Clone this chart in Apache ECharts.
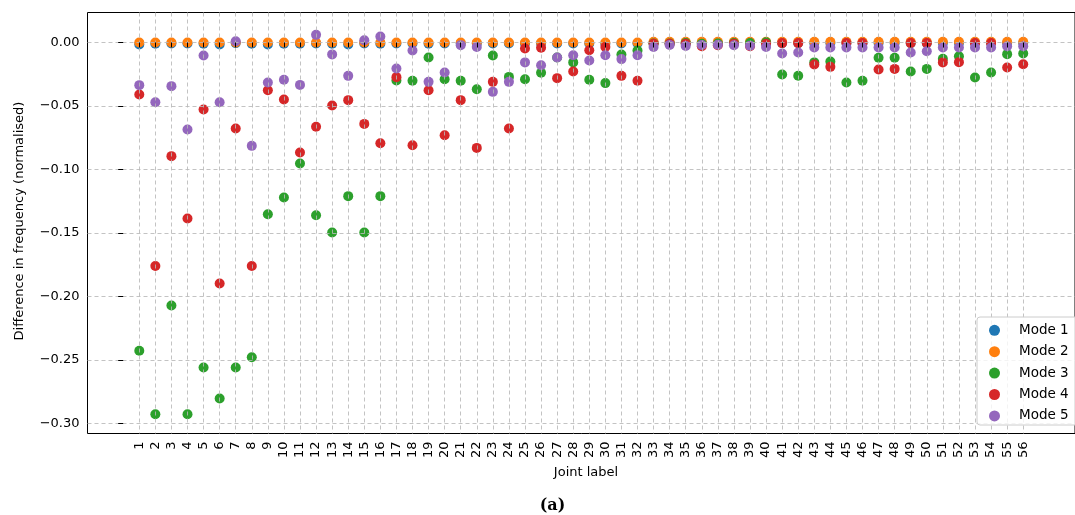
<!DOCTYPE html>
<html><head><meta charset="utf-8">
<script src="https://cdn.jsdelivr.net/npm/echarts@6/dist/echarts.min.js"></script>
<style>html,body{margin:0;padding:0;background:#fff}#c{width:1075px;height:515px}</style>
</head><body><div id="c"></div>
<script>
const joints = [1,2,3,4,5,6,7,8,9,10,11,12,13,14,15,16,17,18,19,20,21,22,23,24,25,26,27,28,29,30,31,32,33,34,35,36,37,38,39,40,41,42,43,44,45,46,47,48,49,50,51,52,53,54,55,56];
const yTicks = [-0.30,-0.25,-0.20,-0.15,-0.10,-0.05,0.00];
const seriesNames = ['Mode 1','Mode 2','Mode 3','Mode 4','Mode 5'];
const mode1 = [-0.0015,-0.001,-0.0008,-0.0008,-0.001,-0.0015,-0.0005,-0.001,-0.0015,-0.001,-0.001,-0.0008,-0.001,-0.0015,-0.0008,-0.001,-0.0008,-0.0008,-0.001,-0.0008,-0.0008,-0.0008,-0.0008,-0.0008,-0.0008,-0.0008,-0.0008,-0.0008,-0.0008,-0.001,-0.0008,-0.0008,-0.0005,-0.0005,-0.0005,-0.0005,-0.0005,-0.0005,-0.0005,-0.0005,-0.0005,-0.0005,-0.0005,-0.0005,-0.0005,-0.0005,-0.0005,-0.0005,-0.0005,-0.0005,-0.0005,-0.0005,-0.0005,-0.0005,-0.0005,-0.0005];
const mode2 = [0,0,0,0,0,0,0,0,0,0,0,0,0,0,0,0,0,0,0,0,0,0,0,0,0,0,0,0,0,0,0,0,0.0005,0.0005,0.0005,0.0005,0.0005,0.0005,0.0005,0.0005,0.0005,0.0005,0.0005,0.0005,0.0005,0.0005,0.0005,0.0005,0.0005,0.0005,0.0005,0.0005,0.0005,0.0005,0.0005,0.0005];
const mode3 = [-0.2428,-0.2927,-0.2071,-0.2927,-0.2559,-0.2803,-0.2559,-0.2478,-0.1352,-0.1221,-0.0953,-0.136,-0.1496,-0.121,-0.1496,-0.121,-0.0299,-0.0302,-0.0118,-0.0289,-0.0302,-0.0368,-0.0102,-0.0271,-0.0289,-0.0239,-0.0118,-0.0157,-0.0294,-0.032,-0.0095,-0.0063,-0.0008,-0.0008,-0.0005,-0.001,-0.0008,-0.0005,-0.0005,0.0002,-0.0252,-0.0262,-0.0157,-0.015,-0.0315,-0.0302,-0.0121,-0.0121,-0.0228,-0.0208,-0.0129,-0.0108,-0.0276,-0.0236,-0.0092,-0.0087];
const mode4 = [-0.041,-0.176,-0.0895,-0.1386,-0.0528,-0.1898,-0.0677,-0.176,-0.0376,-0.0449,-0.0866,-0.0664,-0.0496,-0.0454,-0.0641,-0.0793,-0.0273,-0.0809,-0.0376,-0.073,-0.0454,-0.083,-0.031,-0.0677,-0.0047,-0.0042,-0.0281,-0.0228,-0.0061,-0.0035,-0.0263,-0.0302,-0.001,-0.001,-0.001,-0.003,-0.0022,-0.001,-0.003,-0.001,-0.0005,-0.0005,-0.0173,-0.0192,-0.0005,-0.0005,-0.0213,-0.0208,-0.0005,-0.0005,-0.0157,-0.0155,-0.0005,-0.0005,-0.0197,-0.0171];
const mode5 = [-0.0336,-0.047,-0.0344,-0.0685,-0.0102,-0.047,0.001,-0.0814,-0.0315,-0.0294,-0.0334,0.006,-0.0094,-0.0263,0.0018,0.0047,-0.0205,-0.0063,-0.031,-0.0236,-0.0021,-0.0035,-0.0389,-0.031,-0.0157,-0.0179,-0.0118,-0.01,-0.0142,-0.01,-0.0131,-0.01,-0.0035,-0.0019,-0.0027,-0.002,-0.0018,-0.0022,-0.0025,-0.0035,-0.0087,-0.0079,-0.004,-0.004,-0.004,-0.004,-0.004,-0.004,-0.0079,-0.0069,-0.004,-0.004,-0.004,-0.004,-0.003,-0.003];
const colors = ['#1f77b4','#ff7f0e','#2ca02c','#d62728','#9467bd'];
const allModes = [mode1, mode2, mode3, mode4, mode5];

const FONT = 'DejaVu Sans';
const chart = echarts.init(document.getElementById('c'), null, {renderer:'canvas'});
const gridLine = {show:true, lineStyle:{color:'rgba(185,185,185,0.85)', width:1, type:[4,3]}};
chart.setOption({
  animation:false,
  backgroundColor:'#fff',
  grid:{left:87.5, top:12.5, width:999, height:421, show:true, borderColor:'#000', borderWidth:1, backgroundColor:'#fff'},
  xAxis:{type:'value', min:-2.222, max:59.222, z:3,
    axisLine:{show:false},
    axisTick:{show:true, length:5, lineStyle:{color:'#000'}, customValues:joints},
    axisLabel:{show:true, rotate:90, margin:8, fontFamily:FONT, fontSize:13, color:'#000', customValues:joints, formatter:v=>String(v)},
    splitLine:gridLine},
  yAxis:{type:'value', min:-0.3079, max:0.0236, z:3,
    axisLine:{show:false},
    axisTick:{show:true, length:5, lineStyle:{color:'#000'}, customValues:yTicks},
    axisLabel:{show:true, margin:8, fontFamily:FONT, fontSize:13, color:'#000', customValues:yTicks,
      formatter:v=>{const s=Math.abs(v).toFixed(2); return (v< -1e-9?'\u2212':'')+s;}},
    splitLine:gridLine},
  legend:{show:true, orient:'vertical', left:989, top:322.3, itemWidth:39, itemHeight:11, itemGap:5.4, padding:0,
    icon:'circle', z:20, data:seriesNames,
    textStyle:{fontFamily:FONT, fontSize:13.5, color:'#000', lineHeight:16}},
  graphic:[
    {type:'rect', z:10, shape:{x:977, y:317, width:120, height:108, r:3}, style:{fill:'rgba(255,255,255,0.8)', stroke:'#cccccc', lineWidth:1}},
    {type:'text', z:10, x:20, y:221, rotation:Math.PI/2, style:{text:'Difference in frequency (normalised)', font:'13px "DejaVu Sans"', fill:'#000', textAlign:'center', textVerticalAlign:'middle'}},
    {type:'text', z:10, x:586, y:472.7, style:{text:'Joint label', font:'13px "DejaVu Sans"', fill:'#000', textAlign:'center', textVerticalAlign:'middle'}},
    {type:'text', z:10, x:552.5, y:506, style:{text:'(a)', font:'bold 16px "DejaVu Serif"', fill:'#000', textAlign:'center', textVerticalAlign:'middle'}}
  ],
  series: allModes.map((m,k)=>({
    type:'scatter', name:seriesNames[k], z:2, symbol:'circle', symbolSize:10,
    itemStyle:{color:colors[k], opacity:1},
    emphasis:{disabled:true},
    data: joints.map((j,i)=>[j, m[i]])
  }))
});
</script></body></html>
